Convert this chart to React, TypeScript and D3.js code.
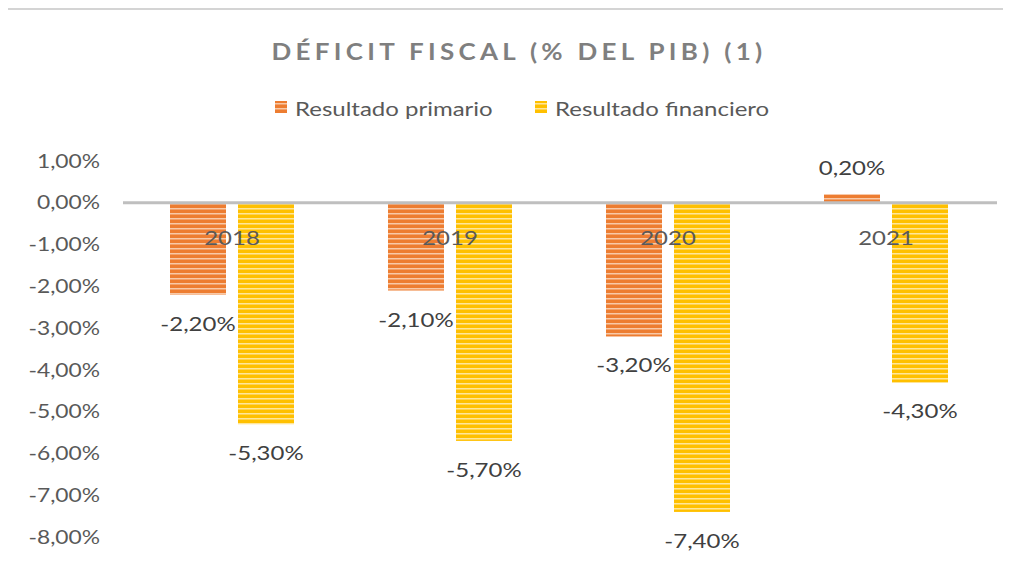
import React from "react";
import * as d3 from "d3";

const categories = ["2018", "2019", "2020", "2021"];
const seriesNames = ["Resultado primario", "Resultado financiero"];
const primario = [-2.2, -2.1, -3.2, 0.2];
const financiero = [-5.3, -5.7, -7.4, -4.3];
const tickValues = [1, 0, -1, -2, -3, -4, -5, -6, -7, -8];
const colors = ["#ED7D31", "#FFC000"];
const lightColors = ["#F8C9A8", "#FFE69A"];
const midColors = ["#F3A26B", "#FFD452"];

const W = 1011;
const H = 561;
const FONT = "Lato, 'Open Sans', sans-serif";
const SX = 1.2;

const fmt = (v: number) => v.toFixed(2).replace(".", ",") + "%";

function SText(props: {
  x: number;
  y: number;
  anchor?: string;
  size: number;
  fill: string;
  weight?: string;
  spacing?: number;
  sx?: number;
  dy?: string;
  children: React.ReactNode;
}) {
  const { x, y, anchor = "start", size, fill, weight, spacing, sx = SX, dy, children } = props;
  return (
    <text
      transform={`translate(${x},${y}) scale(${sx},1)`}
      textAnchor={anchor}
      fontFamily={FONT}
      fontSize={size}
      fontWeight={weight}
      letterSpacing={spacing}
      fill={fill}
      dy={dy}
    >
      {children}
    </text>
  );
}

export default function App() {
  const y = d3.scaleLinear().domain([-8, 1]).range([537, 161]);
  const x0 = d3.scaleBand<string>().domain(categories).range([123, 995]).padding(0);
  const groupW = 124;
  const x1 = d3
    .scaleBand<string>()
    .domain(seriesNames)
    .range([0, groupW])
    .paddingInner(0.1765)
    .paddingOuter(0);
  const values = [primario, financiero];

  return (
    <div style={{ margin: -8 }}>
      <svg width={W} height={H} style={{ display: "block", background: "#fff" }}>
        <defs>
          {colors.map((c, i) => (
            <pattern
              key={i}
              id={`stripe${i}`}
              width={8}
              height={5}
              patternUnits="userSpaceOnUse"
            >
              <rect x={0} y={0} width={8} height={5} fill={c} />
              <rect x={0} y={3} width={8} height={1} fill={lightColors[i]} />
              <rect x={0} y={4} width={8} height={1} fill={midColors[i]} />
            </pattern>
          ))}
        </defs>
        {/* chart border */}
        <line x1={5} x2={W} y1={9} y2={9} stroke="#D4D4D4" strokeWidth={2} />
        <line x1={5} x2={5} y1={8} y2={H} stroke="#D4D4D4" strokeWidth={2} />

        <SText x={519} y={60} anchor="middle" size={23} weight="bold" spacing={3.8} sx={1.13} fill="#7F7F7F">
          DÉFICIT FISCAL (% DEL PIB) (1)
        </SText>

        {/* legend */}
        {seriesNames.map((s, i) => {
          const lx = i === 0 ? 275 : 535;
          return (
            <g key={s}>
              <rect x={lx} y={101} width={12} height={12} fill={`url(#stripe${i})`} />
              <SText x={lx + 20} y={116} size={20} fill="#595959">
                {s}
              </SText>
            </g>
          );
        })}

        {/* y tick labels */}
        {tickValues.map((t) => (
          <SText key={t} x={100} y={y(t)} dy="0.35em" anchor="end" size={19} fill="#595959">
            {fmt(t)}
          </SText>
        ))}

        {/* bars */}
        {categories.map((c, ci) => {
          const gx = (x0(c) as number) + (x0.bandwidth() - groupW) / 2;
          return (
            <g key={c}>
              {seriesNames.map((s, si) => {
                const v = values[si][ci];
                const bx = gx + (x1(s) as number);
                const top = Math.min(y(v), y(0));
                const h = Math.abs(y(v) - y(0));
                return (
                  <rect
                    key={s}
                    x={bx}
                    y={top}
                    width={x1.bandwidth()}
                    height={h}
                    fill={`url(#stripe${si})`}
                  />
                );
              })}
            </g>
          );
        })}

        {/* zero line */}
        <line x1={123} x2={997} y1={y(0)} y2={y(0)} stroke="#BFBFBF" strokeWidth={3} />

        {/* category labels */}
        {categories.map((c) => (
          <SText
            key={c}
            x={(x0(c) as number) + x0.bandwidth() / 2}
            y={245}
            anchor="middle"
            size={20}
            fill="#595959"
          >
            {c}
          </SText>
        ))}

        {/* data labels */}
        {categories.map((c, ci) => {
          const gx = (x0(c) as number) + (x0.bandwidth() - groupW) / 2;
          return seriesNames.map((s, si) => {
            const v = values[si][ci];
            const cx = gx + (x1(s) as number) + x1.bandwidth() / 2;
            const ly = v < 0 ? y(v) + 36 : y(v) - 19;
            return (
              <SText key={c + s} x={cx} y={ly} anchor="middle" size={20} fill="#404040">
                {fmt(v)}
              </SText>
            );
          });
        })}
      </svg>
    </div>
  );
}
